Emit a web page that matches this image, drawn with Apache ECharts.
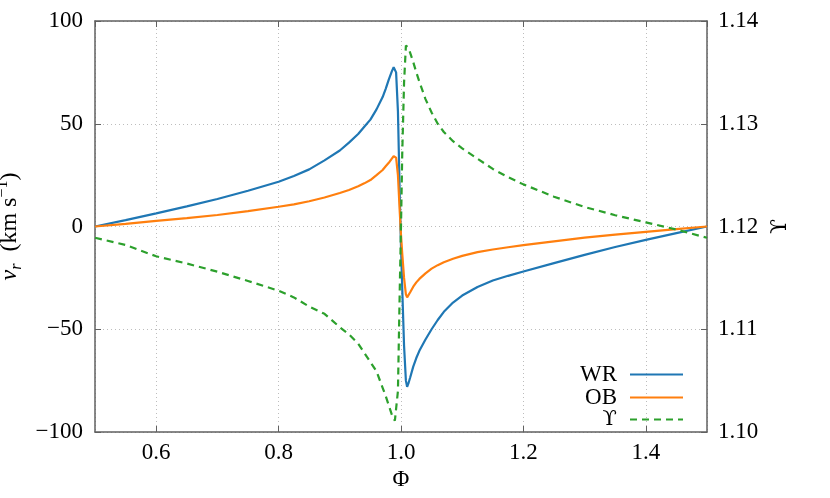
<!DOCTYPE html>
<html>
<head>
<meta charset="utf-8">
<script src="https://cdn.jsdelivr.net/npm/echarts@6/dist/echarts.min.js"></script>
<style>
    html, body {margin: 0; padding: 0; background: #fff;}
    #chart {width: 830px; height: 498px;}
</style>
</head>
<body>
<div id="chart"></div>
<script>
// orbital phase
const phi = [0.500, 0.550, 0.600, 0.650, 0.700, 0.750, 0.800, 0.825, 0.850, 0.875, 0.900, 0.915,
    0.930, 0.940, 0.950, 0.960, 0.970, 0.975, 0.980, 0.985, 0.988, 0.990, 0.992, 0.995, 0.998,
    1.000, 1.002, 1.005, 1.008, 1.010, 1.012, 1.015, 1.020, 1.025, 1.030, 1.040, 1.050, 1.060,
    1.070, 1.085, 1.100, 1.125, 1.150, 1.175, 1.200, 1.250, 1.300, 1.350, 1.400, 1.450, 1.500];

// radial velocity, km/s
const wr = [0, 3.1, 6.4, 9.8, 13.4, 17.4, 21.8, 24.6, 27.8, 32.2, 37, 40.8,
    45, 48.5, 52, 57, 63, 67, 71.5, 75.5, 77.5, 78, 75, 56, 15,
    -10, -30, -58, -75, -78, -76.5, -73.5, -68.2, -64, -60.5, -55, -50, -45.5,
    -41.5, -37, -33.6, -29.4, -26.3, -24, -21.9, -17.8, -13.8, -10, -6.5, -3.2, 0];
const ob = [0, 1.3, 2.7, 4.1, 5.6, 7.5, 9.6, 10.8, 12.3, 14.1, 16.3, 17.8,
    19.6, 21, 22.6, 25, 27.5, 29.3, 31, 33, 34.2, 34.5, 33.5, 25, 7,
    -4, -13, -25, -33, -34.5, -33.8, -32, -29.3, -27.2, -25.5, -22.8, -20.5, -18.8,
    -17.4, -15.7, -14.3, -12.5, -11.2, -10.1, -9.1, -7.2, -5.4, -4, -2.6, -1.3, 0];
// Upsilon (right axis)
const ups = [1.1189, 1.1182, 1.1171, 1.1164, 1.1156, 1.1147, 1.11375, 1.1131, 1.1122, 1.1115, 1.1102, 1.1095,
    1.1086, 1.1077, 1.1068, 1.1059, 1.1043, 1.1035, 1.1026, 1.1017, 1.1013, 1.1011, 1.1011, 1.1040, 1.1140,
    1.1200, 1.1270, 1.1340, 1.1376, 1.1377, 1.1374, 1.1369, 1.1360, 1.1350, 1.1341, 1.1324, 1.1311, 1.1300,
    1.1292, 1.1283, 1.1276, 1.1266, 1.1256, 1.1248, 1.1241, 1.1229, 1.1219, 1.1211, 1.1204, 1.1197, 1.1189];

const FONT = 'Liberation Serif';
const UPS_FONT = 'DejaVu Serif';
const axisCol = '#606060';
const gridLine = {show: true, lineStyle: {type: [1, 3], color: '#bdbdbd', width: 1}};

const pairs = arr => phi.map((p, i) => [p, arr[i]]);
const minus = s => String(s).replace('-', '\u2212');

const chart = echarts.init(document.getElementById('chart'));
chart.setOption({
    animation: false,
    textStyle: {fontFamily: FONT},
    grid: {left: 95, right: 123, top: 21, bottom: 66, containLabel: false, outerBoundsMode: 'none'},
    legend: {
        orient: 'vertical',
        right: 146,
        top: 363,
        padding: 0,
        align: 'right',
        itemWidth: 53,
        itemHeight: 10,
        itemGap: 0,
        itemStyle: {opacity: 0},
        textStyle: {fontFamily: FONT, fontSize: 23, color: '#000', lineHeight: 20, padding: [0, 8, 0, 0],
            rich: {u: {fontFamily: UPS_FONT, fontSize: 21, color: '#000'}}},
        formatter: n => n === 'Υ' ? '{u|\u03D2}' : n,
        data: ['WR', 'OB', 'Υ']
    },
    xAxis: [
        {
            type: 'value', min: 0.5, max: 1.5, splitNumber: 5,
            name: 'Φ', nameLocation: 'middle', nameGap: 34,
            nameTextStyle: {fontFamily: FONT, fontSize: 23, color: '#000'},
            axisLine: {show: true, onZero: false, lineStyle: {color: axisCol, width: 1.5}},
            axisTick: {show: true, inside: true, length: 6, lineStyle: {color: axisCol}},
            axisLabel: {
                fontFamily: FONT, fontSize: 23, color: '#000', margin: 9,
                showMinLabel: false, showMaxLabel: false,
                formatter: v => v.toFixed(1)
            },
            splitLine: gridLine
        },
        {
            type: 'value', min: 0.5, max: 1.5, splitNumber: 5, position: 'top',
            axisLine: {show: true, onZero: false, lineStyle: {color: axisCol, width: 1.5}},
            axisTick: {show: true, inside: true, length: 6, lineStyle: {color: axisCol}},
            axisLabel: {show: false},
            splitLine: {show: false}
        }
    ],
    yAxis: [
        {
            type: 'value', min: -100, max: 100, interval: 50,
            name: '{i|v}{sub|r}  (km s{sup|\u22121})',
            nameLocation: 'middle', nameGap: 46, nameRotate: 90,
            nameTextStyle: {
                fontFamily: FONT, fontSize: 24, color: '#000', lineHeight: 30, padding: [9, 0, 0, 0],
                rich: {
                    i: {fontFamily: FONT, fontSize: 24, fontStyle: 'italic', color: '#000'},
                    sub: {fontFamily: FONT, fontSize: 16, fontStyle: 'italic', color: '#000', verticalAlign: 'bottom'},
                    sup: {fontFamily: FONT, fontSize: 16, color: '#000', verticalAlign: 'top'}
                }
            },
            axisLine: {show: true, onZero: false, lineStyle: {color: axisCol, width: 1.5}},
            axisTick: {show: true, inside: true, length: 6, lineStyle: {color: axisCol}},
            axisLabel: {fontFamily: FONT, fontSize: 23, color: '#000', margin: 12, formatter: v => minus(v)},
            splitLine: gridLine
        },
        {
            type: 'value', min: 1.10, max: 1.14, interval: 0.01, position: 'right',
            name: '\u03D2', nameLocation: 'middle', nameGap: 62, nameRotate: 90,
            nameTextStyle: {fontFamily: UPS_FONT, fontSize: 22, color: '#000'},
            axisLine: {show: true, onZero: false, lineStyle: {color: axisCol, width: 1.5}},
            axisTick: {show: true, inside: true, length: 6, lineStyle: {color: axisCol}},
            axisLabel: {fontFamily: FONT, fontSize: 23, color: '#000', margin: 11, formatter: v => v.toFixed(2)},
            splitLine: {show: false}
        }
    ],
    series: [
        {
            name: 'WR', type: 'line', data: pairs(wr), yAxisIndex: 0,
            symbol: 'none', lineStyle: {color: '#1f77b4', width: 2.2}, itemStyle: {color: '#1f77b4'}
        },
        {
            name: 'OB', type: 'line', data: pairs(ob), yAxisIndex: 0,
            symbol: 'none', lineStyle: {color: '#ff7f0e', width: 2.2}, itemStyle: {color: '#ff7f0e'}
        },
        {
            name: 'Υ', type: 'line', data: pairs(ups), yAxisIndex: 1,
            symbol: 'none', lineStyle: {color: '#2ca02c', width: 2.2, type: [7, 5]}, itemStyle: {color: '#2ca02c'}
        }
    ]
});
</script>
</body>
</html>
